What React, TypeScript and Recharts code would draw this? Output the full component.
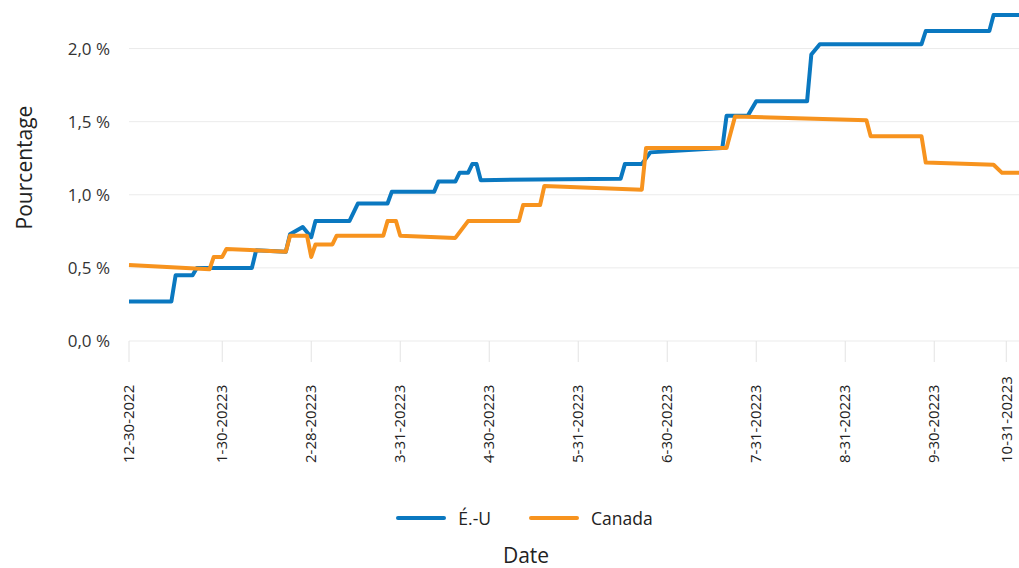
import React from 'react';
import { LineChart, Line, XAxis, YAxis, CartesianGrid, Legend, Label } from 'recharts';

// x = jour ouvrable depuis le 12-30-2022
const usDays = [0, 10, 11, 15, 16, 29, 30, 37, 38, 41, 43, 44, 52, 54, 61, 62, 72, 73, 77, 78, 80, 81, 82, 83, 116, 117, 121, 123, 140, 141, 146, 148, 160, 161, 163, 187, 188, 203, 204, 210];
const usRates = [0.27, 0.27, 0.45, 0.45, 0.5, 0.5, 0.62, 0.61, 0.73, 0.78, 0.71, 0.82, 0.82, 0.94, 0.94, 1.02, 1.02, 1.09, 1.09, 1.15, 1.15, 1.21, 1.21, 1.1, 1.11, 1.21, 1.21, 1.29, 1.32, 1.54, 1.54, 1.64, 1.64, 1.96, 2.03, 2.03, 2.12, 2.12, 2.23, 2.23];

const caDays = [0, 19, 20, 22, 23, 37, 38, 42, 43, 44, 48, 49, 60, 61, 63, 64, 77, 80, 92, 93, 97, 98, 121, 122, 141, 143, 174, 175, 187, 188, 204, 206, 210];
const caRates = [0.52, 0.49, 0.575, 0.575, 0.63, 0.61, 0.72, 0.72, 0.575, 0.66, 0.66, 0.72, 0.72, 0.82, 0.82, 0.72, 0.705, 0.82, 0.82, 0.93, 0.93, 1.06, 1.035, 1.32, 1.32, 1.535, 1.51, 1.4, 1.4, 1.22, 1.205, 1.15, 1.15];

const tickDays = [0, 22, 43, 64, 85, 106, 127, 148, 169, 190, 207];
const tickLabels = ['12-30-2022', '1-30-20223', '2-28-20223', '3-31-20223', '4-30-20223', '5-31-20223', '6-30-20223', '7-31-20223', '8-31-20223', '9-30-20223', '10-31-20223'];
const pctTicks = [0, 0.5, 1, 1.5, 2];
const seriesNames = ['É.-U', 'Canada'];

const usData = usDays.map((day, i) => ({ day, rate: usRates[i] }));
const caData = caDays.map((day, i) => ({ day, rate: caRates[i] }));

const FONT = '"Open Sans", sans-serif';
const BLUE = '#0a78c0';
const ORANGE = '#f7931e';
const TEXT = '#222';

const fmtPct = (v: number) => `${v.toFixed(1).replace('.', ',')} %`;

const DateTick = (props: any) => {
  const { x, y, payload } = props;
  const label = tickLabels[tickDays.indexOf(payload.value)];
  const by = y + 99;
  return (
    <text
      x={x}
      y={by}
      dy="0.35em"
      transform={`rotate(-90, ${x}, ${by})`}
      textAnchor="start"
      fontSize={15}
      fontFamily={FONT}
      fill={TEXT}
    >
      {label}
    </text>
  );
};

const YTitle = (props: any) => {
  const { viewBox } = props;
  const x = viewBox.x + 24;
  const y = viewBox.y + viewBox.height / 2 - 9;
  return (
    <text x={x} y={y} transform={`rotate(-90, ${x}, ${y})`} textAnchor="middle" dominantBaseline="central" fontSize={21} fontFamily={FONT} fill={TEXT}>
      Pourcentage
    </text>
  );
};

const XTitle = (props: any) => {
  const { viewBox } = props;
  return (
    <text x={viewBox.x + 397} y={viewBox.y + viewBox.height + 65} textAnchor="middle" fontSize={21} fontFamily={FONT} fill={TEXT}>
      Date
    </text>
  );
};

// keep series order (É.-U first) instead of alphabetical
const renderLegend = (props: any) => {
  const items = [...props.payload].sort((a: any, b: any) => seriesNames.indexOf(a.value) - seriesNames.indexOf(b.value));
  return (
    <div style={{ display: 'flex', justifyContent: 'center', alignItems: 'center', gap: 38, height: 40, paddingLeft: 30, fontFamily: FONT, fontSize: 17.5, color: TEXT }}>
      {items.map((entry: any) => (
        <div key={entry.value} style={{ display: 'flex', alignItems: 'center' }}>
          <span style={{ display: 'inline-block', width: 50, height: 4, borderRadius: 2, background: entry.color, marginRight: 12 }} />
          <span>{entry.value}</span>
        </div>
      ))}
    </div>
  );
};

export default function App() {
  return (
    <div style={{ position: 'absolute', left: 0, top: 0, width: 1019, height: 568, background: '#fff' }}>
      <LineChart width={1019} height={568} margin={{ top: 12, right: 0, bottom: 30, left: 0 }}>
        <CartesianGrid vertical={false} horizontalValues={pctTicks} stroke="#ebebeb" />
        <XAxis
          dataKey="day"
          type="number"
          domain={[0, 210]}
          ticks={tickDays}
          interval={0}
          axisLine={false}
          tickSize={21}
          tickLine={{ stroke: '#e3e3e3' }}
          tick={<DateTick />}
          height={157}
        >
          <Label content={XTitle} />
        </XAxis>
        <YAxis
          type="number"
          domain={[0, 2.25]}
          ticks={pctTicks}
          tickFormatter={fmtPct}
          width={129}
          tickSize={0}
          tickMargin={19}
          axisLine={false}
          tick={{ fontSize: 17, fontFamily: FONT, fill: '#333' }}
        >
          <Label content={YTitle} />
        </YAxis>
        <Legend verticalAlign="bottom" content={renderLegend} />
        <Line data={usData} dataKey="rate" name="É.-U" type="linear" stroke={BLUE} strokeWidth={4} strokeLinejoin="round" dot={false} activeDot={false} isAnimationActive={false} />
        <Line data={caData} dataKey="rate" name="Canada" type="linear" stroke={ORANGE} strokeWidth={4} strokeLinejoin="round" dot={false} activeDot={false} isAnimationActive={false} />
      </LineChart>
    </div>
  );
}
